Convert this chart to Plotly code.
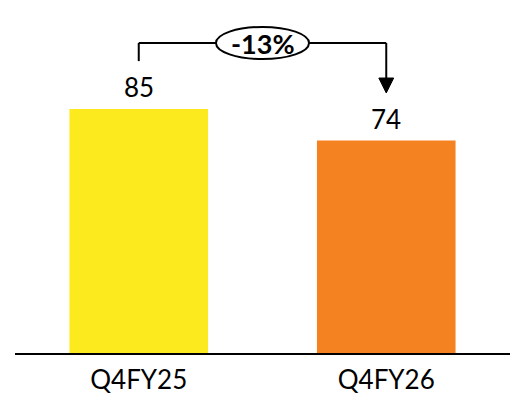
import plotly.graph_objects as go

# Quarterly values
categories = ["Q4FY25", "Q4FY26"]
values = [85, 74]
bar_colors = ["#FCEA1E", "#F58220"]
change_label = "-13%"

FONT = "Lato"

fig = go.Figure(
    go.Bar(
        x=categories,
        y=values,
        marker=dict(color=bar_colors, line=dict(width=0)),
        width=0.56,
        hoverinfo="skip",
    )
)

# Value labels above each bar
for cat, val in zip(categories, values):
    fig.add_annotation(
        x=cat, y=val, text=str(val), showarrow=False,
        yanchor="middle", yshift=22,
        font=dict(family=FONT, size=26, color="#000000"),
    )

# Bracket connecting the two bars, with an arrow on the second
top = 108
left_start = values[0] + 16.7
right_tip = values[1] + 16.6
line_style = dict(color="#000000", width=2)
fig.add_shape(type="line", xref="x", yref="y", x0=0, x1=0, y0=left_start, y1=top, line=line_style)
fig.add_shape(type="line", xref="x", yref="y", x0=0, x1=1, y0=top, y1=top, line=line_style)
fig.add_shape(type="line", xref="x", yref="y", x0=1, x1=1, y0=top, y1=right_tip + 4, line=line_style)
head_w = 0.03
head_h = 5.2
fig.add_shape(
    type="path", xref="x", yref="y",
    path=f"M {1 - head_w} {right_tip + head_h} L {1 + head_w} {right_tip + head_h} L 1 {right_tip} Z",
    fillcolor="#000000", line=dict(color="#000000", width=1),
)

# Change badge
fig.add_shape(
    type="circle", xref="x", yref="y",
    x0=0.5 - 0.188, x1=0.5 + 0.188, y0=top - 5.6, y1=top + 5.6,
    fillcolor="#FFFFFF", line=line_style,
)
fig.add_annotation(
    x=0.5, y=top, xref="x", yref="y", text=f"<b>{change_label}</b>",
    showarrow=False, yanchor="middle",
    font=dict(family=FONT, size=27, color="#000000"),
)

fig.update_layout(
    width=522, height=397,
    margin=dict(l=15, r=12, t=10, b=44),
    paper_bgcolor="#FFFFFF", plot_bgcolor="#FFFFFF",
    showlegend=False,
    bargap=0.44,
    xaxis=dict(
        showline=True, linecolor="#000000", linewidth=2,
        showgrid=False, zeroline=False, ticks="",
        tickfont=dict(family=FONT, size=26, color="#000000"),
        range=[-0.5, 1.5], automargin=False, ticklabelstandoff=3,
    ),
    yaxis=dict(
        range=[0, 119.5], visible=False, showgrid=False, zeroline=False,
        automargin=False,
    ),
)

fig.write_html("out.html")
